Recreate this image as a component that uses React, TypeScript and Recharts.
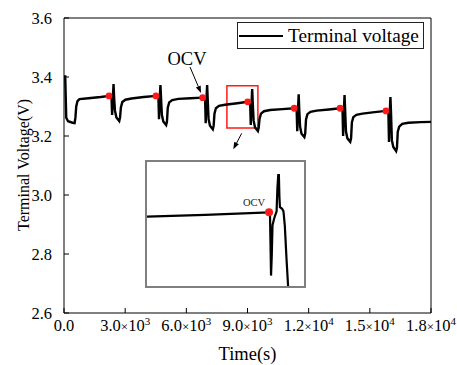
import React from "react";
import {
  ComposedChart,
  LineChart,
  Line,
  Scatter,
  XAxis,
  YAxis,
  Legend,
  ReferenceArea,
  ReferenceLine,
  ReferenceDot,
  Label,
} from "recharts";

// [time (s), terminal voltage (V)], one block per pulse cycle
const restStart: [number, number][] = [
  [0, 3.402], [60, 3.402], [110, 3.262], [200, 3.25], [420, 3.245], [520, 3.244],
  [560, 3.262], [600, 3.3], [660, 3.318], [760, 3.325], [1200, 3.328], [1800, 3.332],
];
const cycle1: [number, number][] = [
  [2210, 3.336], [2330, 3.333], [2360, 3.271], [2390, 3.321], [2430, 3.376], [2460, 3.328],
  [2500, 3.286], [2570, 3.263], [2710, 3.251], [2750, 3.263], [2790, 3.297], [2860, 3.315],
  [3010, 3.323], [3310, 3.327], [3910, 3.332],
];
const cycle2: [number, number][] = [
  [4510, 3.336], [4630, 3.333], [4660, 3.257], [4690, 3.321], [4730, 3.373], [4760, 3.328],
  [4800, 3.272], [4870, 3.249], [5010, 3.237], [5050, 3.249], [5090, 3.296], [5160, 3.314],
  [5310, 3.322], [5610, 3.326], [6210, 3.328],
];
const cycle3: [number, number][] = [
  [6800, 3.33], [6920, 3.327], [6950, 3.243], [6980, 3.315], [7020, 3.373], [7050, 3.322],
  [7090, 3.258], [7160, 3.235], [7300, 3.223], [7340, 3.235], [7380, 3.276], [7450, 3.294],
  [7600, 3.302], [7900, 3.306], [8500, 3.311],
];
const cycle4: [number, number][] = [
  [9010, 3.316], [9130, 3.313], [9160, 3.237], [9190, 3.301], [9230, 3.359], [9260, 3.308],
  [9300, 3.252], [9370, 3.229], [9510, 3.217], [9550, 3.229], [9590, 3.258], [9660, 3.276],
  [9810, 3.284], [10110, 3.288], [10710, 3.291],
];
const cycle5: [number, number][] = [
  [11290, 3.294], [11410, 3.291], [11440, 3.216], [11470, 3.279], [11510, 3.341], [11540, 3.286],
  [11580, 3.231], [11650, 3.208], [11790, 3.196], [11830, 3.208], [11870, 3.256], [11940, 3.274],
  [12090, 3.282], [12390, 3.286], [12990, 3.29],
];
const cycle6: [number, number][] = [
  [13540, 3.294], [13660, 3.291], [13690, 3.2], [13720, 3.279], [13760, 3.339], [13790, 3.286],
  [13830, 3.215], [13900, 3.192], [14040, 3.18], [14080, 3.192], [14120, 3.246], [14190, 3.264],
  [14340, 3.272], [14640, 3.276], [15240, 3.281],
];
const cycle7: [number, number][] = [
  [15790, 3.285], [15910, 3.282], [15940, 3.18], [15970, 3.27], [16010, 3.332], [16040, 3.277],
  [16080, 3.186], [16150, 3.163], [16290, 3.149], [16330, 3.16], [16370, 3.215], [16440, 3.232],
  [16590, 3.241], [16890, 3.245], [17500, 3.247], [18000, 3.248],
];

// OCV points taken at the end of each rest
const ocvTimes = [2210, 4510, 6800, 9010, 11290, 13540, 15790];
const ocvVolts = [3.336, 3.336, 3.33, 3.316, 3.294, 3.294, 3.285];

// zoomed trace around the 4th OCV point (inset)
const insetTrace: [number, number][] = [
  [7844, 3.307], [8400, 3.309], [9010, 3.312], [9019, 3.31], [9029, 3.239], [9036, 3.262],
  [9043, 3.297], [9057, 3.304], [9067, 3.308], [9082, 3.313], [9090, 3.34], [9098, 3.355],
  [9104, 3.355], [9109, 3.33], [9114, 3.318], [9135, 3.316], [9148, 3.313], [9161, 3.296],
  [9177, 3.258], [9192, 3.227], [9215, 3.2],
];
const insetOcv: [number, number] = [9010, 3.312];

const xTicks = [0, 3000, 6000, 9000, 12000, 15000, 18000];
const xTickMantissa = ["0.0", "3.0", "6.0", "9.0", "1.2", "1.5", "1.8"];
const xTickExponent = ["", "3", "3", "3", "4", "4", "4"];
const yTicks = [2.6, 2.8, 3.0, 3.2, 3.4, 3.6];

const trace = [...restStart, ...cycle1, ...cycle2, ...cycle3, ...cycle4, ...cycle5, ...cycle6, ...cycle7].map(
  ([t, v]) => ({ t, v })
);
const ocvPoints = ocvTimes.map((t, i) => ({ t, v: ocvVolts[i] }));
const insetData = insetTrace.map(([t, v]) => ({ t, v }));

const SERIF = "Liberation Serif, serif";
const RED = "#ff1a1a";

function TimeTick(props: any) {
  const { x, y, payload } = props;
  const i = xTicks.indexOf(payload.value);
  return (
    <text x={x} y={y} dy="0.71em" textAnchor="middle" fill="#000" style={{ fontFamily: SERIF, fontSize: 16.5 }}>
      <tspan>{xTickMantissa[i]}</tspan>
      {xTickExponent[i] ? (
        <>
          <tspan style={{ fontSize: 13 }}>×</tspan>
          <tspan>10</tspan>
          <tspan dy={-6} style={{ fontSize: 11 }}>
            {xTickExponent[i]}
          </tspan>
        </>
      ) : null}
    </text>
  );
}

const arrowShape = (caption?: string) => (props: any) => {
  const { x1, y1, x2, y2 } = props;
  const ang = Math.atan2(y2 - y1, x2 - x1);
  const len = 7;
  const half = 2.6;
  const bx = x2 - len * Math.cos(ang);
  const by = y2 - len * Math.sin(ang);
  const pts = [
    `${x2},${y2}`,
    `${bx + half * Math.sin(ang)},${by - half * Math.cos(ang)}`,
    `${bx - half * Math.sin(ang)},${by + half * Math.cos(ang)}`,
  ].join(" ");
  return (
    <g>
      <line x1={x1} y1={y1} x2={bx} y2={by} stroke="#000" strokeWidth={1} />
      <polygon points={pts} fill="#000" />
      {caption ? (
        <text x={x1 - 3} y={y1 - 2} textAnchor="middle" fill="#000" style={{ fontFamily: SERIF, fontSize: 18.5 }}>
          {caption}
        </text>
      ) : null}
    </g>
  );
};

function LegendBox() {
  return (
    <div
      style={{
        width: 187,
        height: 27,
        boxSizing: "border-box",
        border: "1px solid #222",
        background: "#fff",
        display: "flex",
        alignItems: "center",
        fontFamily: SERIF,
        fontSize: 19.3,
        color: "#000",
        whiteSpace: "nowrap",
      }}
    >
      <svg width={46} height={10} style={{ flex: "none" }}>
        <line x1={1} x2={45} y1={5} y2={5} stroke="#000" strokeWidth={2} />
      </svg>
      <span style={{ marginLeft: 4, lineHeight: "25px" }}>Terminal voltage</span>
    </div>
  );
}

function Inset() {
  return (
    <div
      style={{
        position: "absolute",
        left: 145,
        top: 160,
        width: 161,
        height: 128,
        boxSizing: "border-box",
        border: "2px solid #7f7f7f",
        background: "#fff",
      }}
    >
      <LineChart width={157} height={124} data={insetData} margin={{ top: 0, right: 0, bottom: 0, left: 0 }}>
        <XAxis type="number" dataKey="t" domain={[7844, 9344]} allowDataOverflow hide />
        <YAxis type="number" domain={[3.227, 3.37]} allowDataOverflow hide />
        <Line type="linear" dataKey="v" stroke="#000" strokeWidth={2.2} dot={false} isAnimationActive={false} />
        <ReferenceDot
          x={insetOcv[0]}
          y={insetOcv[1]}
          r={4}
          fill={RED}
          stroke="none"
          label={{
            content: (p: any) => {
              const vb = p.viewBox || {};
              const cx = (vb.x ?? 0) + (vb.width ?? 0) / 2;
              const cy = (vb.y ?? 0) + (vb.height ?? 0) / 2;
              return (
                <text x={cx - 15} y={cy - 6} textAnchor="middle" fill="#222" style={{ fontFamily: SERIF, fontSize: 10.5 }}>
                  OCV
                </text>
              );
            },
          }}
        />
      </LineChart>
    </div>
  );
}

export default function App() {
  return (
    <div
      style={{
        position: "absolute",
        left: 0,
        top: 0,
        width: 457,
        height: 365,
        background: "#fff",
        fontFamily: SERIF,
      }}
    >
      <ComposedChart width={457} height={365} data={trace} margin={{ top: 18, right: 26, bottom: 0, left: 0 }}>
        <XAxis
          type="number"
          dataKey="t"
          domain={[0, 18000]}
          ticks={xTicks}
          interval={0}
          height={52}
          stroke="#000"
          tickSize={-5}
          tickMargin={11}
          tick={<TimeTick />}
        >
          <Label
            content={() => (
              <text x={247.5} y={360} textAnchor="middle" fill="#000" style={{ fontFamily: SERIF, fontSize: 18.5 }}>
                Time(s)
              </text>
            )}
          />
        </XAxis>
        <YAxis
          type="number"
          domain={[2.6, 3.6]}
          ticks={yTicks}
          interval={0}
          width={64}
          stroke="#000"
          tickSize={-5}
          tickMargin={17}
          tick={{ fill: "#000", fontSize: 16.5, fontFamily: SERIF }}
          tickFormatter={(v: number) => v.toFixed(1)}
        >
          <Label
            content={() => (
              <text
                x={29}
                y={165}
                transform="rotate(-90 29 165)"
                textAnchor="middle"
                fill="#000"
                style={{ fontFamily: SERIF, fontSize: 16 }}
              >
                Terminal Voltage(V)
              </text>
            )}
          />
        </YAxis>
        <ReferenceLine y={3.6} stroke="#000" strokeWidth={1} ifOverflow="visible" />
        <ReferenceLine x={18000} stroke="#000" strokeWidth={1} ifOverflow="visible" />
        <ReferenceArea x1={7990} x2={9510} y1={3.227} y2={3.37} fill="none" fillOpacity={0} stroke={RED} strokeWidth={1.5} />
        <Line type="linear" dataKey="v" stroke="#000" strokeWidth={2.4} dot={false} isAnimationActive={false} legendType="none" />
        <Scatter
          data={ocvPoints}
          dataKey="v"
          fill={RED}
          legendType="none"
          isAnimationActive={false}
          shape={(p: any) => <circle cx={p.cx} cy={p.cy} r={3.4} fill={RED} />}
        />
        <ReferenceLine
          segment={[{ x: 6180, y: 3.434 }, { x: 6720, y: 3.346 }]}
          shape={arrowShape("OCV")}
          ifOverflow="visible"
        />
        <ReferenceLine
          segment={[{ x: 8715, y: 3.209 }, { x: 8303, y: 3.155 }]}
          shape={arrowShape()}
          ifOverflow="visible"
        />
        <Legend
          layout="vertical"
          align="center"
          verticalAlign="middle"
          content={() => <LegendBox />}
          wrapperStyle={{ left: 237, top: 22, width: 187, height: 27 }}
        />
      </ComposedChart>
      <Inset />
    </div>
  );
}
